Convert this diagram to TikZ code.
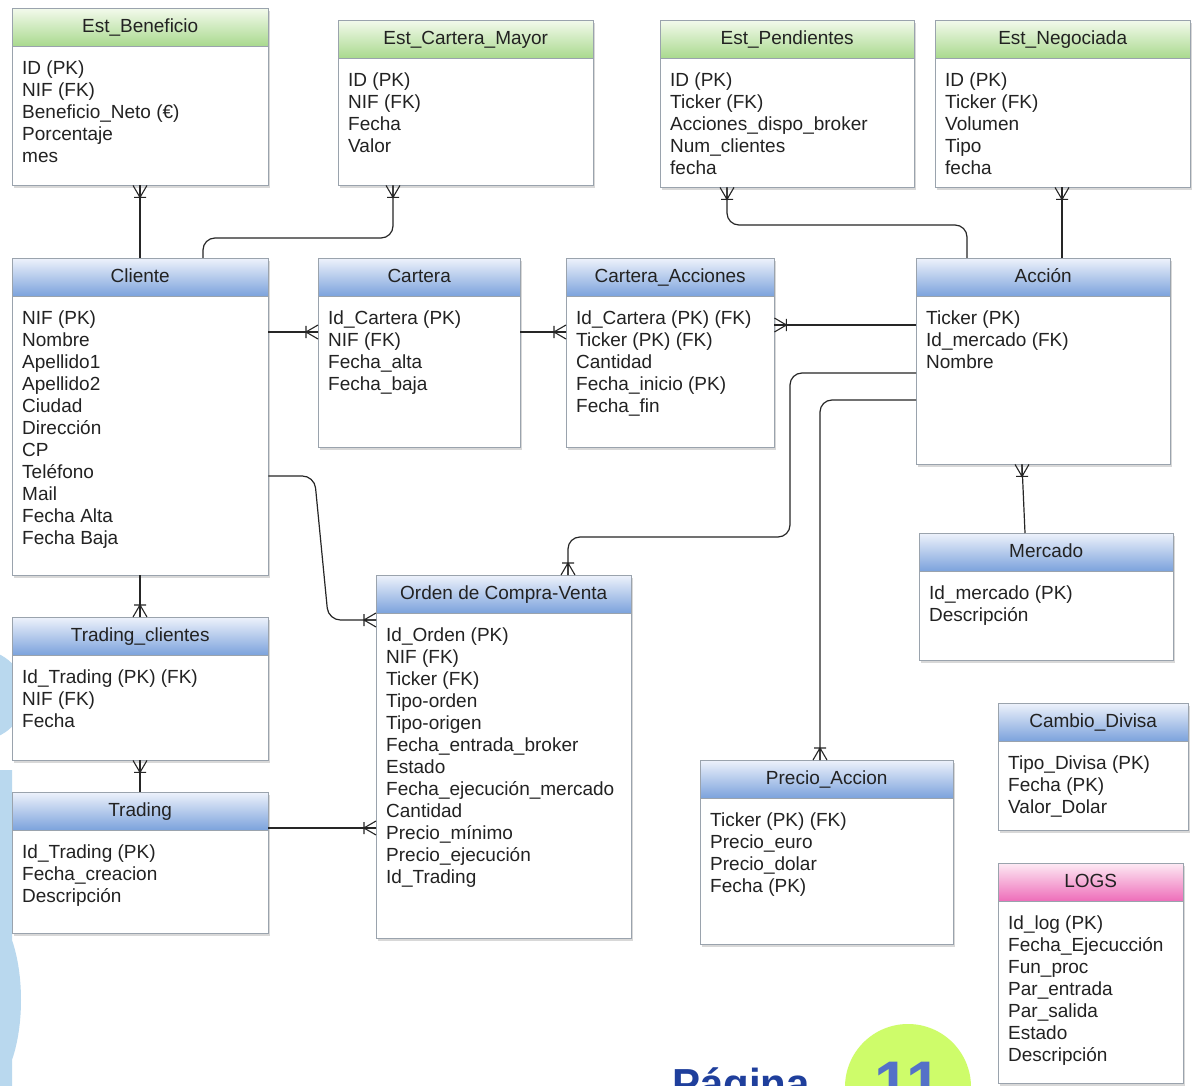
\documentclass[tikz,border=0pt]{standalone}
\usepackage{fontspec}
\setmainfont{Liberation Sans}
\usetikzlibrary{shadows}

\definecolor{azulA}{HTML}{EDF2FB}
\definecolor{azulB}{HTML}{7BA2DC}
\definecolor{verdeA}{HTML}{F3FAEC}
\definecolor{verdeB}{HTML}{A9D98E}
\definecolor{rosaA}{HTML}{FDEAF4}
\definecolor{rosaB}{HTML}{EE6DB9}
\definecolor{texto}{HTML}{222222}
\definecolor{borde}{HTML}{9AA3AD}
\definecolor{fondo}{HTML}{B9D8EE}
\definecolor{lima}{HTML}{CEFC6A}
\definecolor{azulPag}{HTML}{1F3F9C}
\definecolor{azulNum}{HTML}{5471C8}

\tikzset{
  tabla/.style={draw=borde,fill=white,inner sep=0,anchor=north west,
    drop shadow={shadow xshift=2pt,shadow yshift=-3pt,opacity=.3}},
  cabecera/.style={draw=borde,inner sep=0,anchor=north west,minimum height=38,
    text height=14,text depth=4,text=texto},
  azul/.style={top color=azulA,bottom color=azulB},
  verde/.style={top color=verdeA,bottom color=verdeB},
  rosa/.style={top color=rosaA,bottom color=rosaB},
  fila/.style={anchor=base west,inner sep=0,text=texto},
  rel/.style={line width=1.2pt,draw=black!85,rounded corners=12},
  patas/.pic={\draw[line width=1.1pt,black!85] (0,7) -- (-12,0) -- (0,-7) (-12,0) -- (0,0) (-12,-6) -- (-12,6);}
}

% nombre, x, y, ancho, alto, color, titulo, filas
\newcommand{\tabla}[8]{%
  \node[tabla,minimum width=#4,minimum height=#5] (#1) at (#2,-#3) {};
  \node[cabecera,#6,minimum width=#4] (#1-t) at (#1.north west) {#7};
  \foreach \r [count=\i] in {#8}
    \node[fila] (#1-\i) at ([xshift=10,yshift=-6-22*\i]#1-t.south west) {\r};
}

\begin{document}
\begin{tikzpicture}[x=1pt,y=1pt,font=\fontsize{19}{22}\selectfont]
	\path[use as bounding box,clip] (0,0) rectangle (1195,-1086);
	\fill[white] (0,0) rectangle (1195,-1086);
	% fondo de la pagina
	\fill[fondo] (-20,-695) circle (45);
	\fill[fondo] (0,-770) -- (12,-770) -- (12,-940) .. controls (24,-975) and (24,-1025) .. (12,-1060) -- (12,-1086) -- (0,-1086) -- cycle;

	\tabla{estben}{12}{8}{256}{177}{verde}{Est\_Beneficio}{ID (PK),NIF (FK),Beneficio\_Neto (€),Porcentaje,mes}
	\tabla{estcm}{338}{20}{255}{165}{verde}{Est\_Cartera\_Mayor}{ID (PK),NIF (FK),Fecha,Valor}
	\tabla{estpen}{660}{20}{254}{167}{verde}{Est\_Pendientes}{ID (PK),Ticker (FK),Acciones\_dispo\_broker,Num\_clientes,fecha}
	\tabla{estneg}{935}{20}{255}{167}{verde}{Est\_Negociada}{ID (PK),Ticker (FK),Volumen,Tipo,fecha}
	\tabla{cliente}{12}{258}{256}{317}{azul}{Cliente}{NIF (PK),Nombre,Apellido1,Apellido2,Ciudad,Dirección,CP,Teléfono,Mail,Fecha Alta,Fecha Baja}
	\tabla{cartera}{318}{258}{202}{189}{azul}{Cartera}{Id\_Cartera (PK),NIF (FK),Fecha\_alta,Fecha\_baja}
	\tabla{caracc}{566}{258}{208}{189}{azul}{Cartera\_Acciones}{Id\_Cartera (PK) (FK),Ticker (PK) (FK),Cantidad,Fecha\_inicio (PK),Fecha\_fin}
	\tabla{accion}{916}{258}{254}{206}{azul}{Acción}{Ticker (PK),Id\_mercado (FK),Nombre}
	\tabla{mercado}{919}{533}{254}{127}{azul}{Mercado}{Id\_mercado (PK),Descripción}
	\tabla{tradcli}{12}{617}{256}{143}{azul}{Trading\_clientes}{Id\_Trading (PK) (FK),NIF (FK),Fecha}
	\tabla{trading}{12}{792}{256}{141}{azul}{Trading}{Id\_Trading (PK),Fecha\_creacion,Descripción}
	\tabla{orden}{376}{575}{255}{363}{azul}{Orden de Compra-Venta}{Id\_Orden (PK),NIF (FK),Ticker (FK),Tipo-orden,Tipo-origen,Fecha\_entrada\_broker,Estado,Fecha\_ejecución\_mercado,Cantidad,Precio\_mínimo,Precio\_ejecución,Id\_Trading}
	\tabla{precio}{700}{760}{253}{184}{azul}{Precio\_Accion}{Ticker (PK) (FK),Precio\_euro,Precio\_dolar,Fecha (PK)}
	\tabla{cambio}{998}{703}{190}{127}{azul}{Cambio\_Divisa}{Tipo\_Divisa (PK),Fecha (PK),Valor\_Dolar}
	\tabla{logs}{998}{863}{185}{220}{rosa}{LOGS}{Id\_log (PK),Fecha\_Ejecucción,Fun\_proc,Par\_entrada,Par\_salida,Estado,Descripción}

	% relaciones
	\draw[rel] ([xshift=128]cliente.north west) -- ([xshift=128]estben.south west);
	\pic[rotate=90] at ([xshift=128]estben.south west) {patas};
	\draw[rel] ([xshift=191]cliente.north west) -- ++(0,20) -| ([xshift=55]estcm.south west);
	\pic[rotate=90] at ([xshift=55]estcm.south west) {patas};
	\draw[rel] ([yshift=-74]cliente.north east) -- ([yshift=-74]cartera.north west);
	\pic at ([yshift=-74]cartera.north west) {patas};
	\draw[rel] ([yshift=-74]cartera.north east) -- ([yshift=-74]caracc.north west);
	\pic at ([yshift=-74]caracc.north west) {patas};
	\draw[rel] ([yshift=-67]accion.north west) -- ([yshift=-67]caracc.north east);
	\pic[rotate=180] at ([yshift=-67]caracc.north east) {patas};
	\draw[rel] ([xshift=51]accion.north west) -- ++(0,33) -| ([xshift=67]estpen.south west);
	\pic[rotate=90] at ([xshift=67]estpen.south west) {patas};
	\draw[rel] ([xshift=146]accion.north west) -- ([xshift=127]estneg.south west);
	\pic[rotate=90] at ([xshift=127]estneg.south west) {patas};
	\draw[rel] ([xshift=106]mercado.north west) -- ([xshift=106]accion.south west);
	\pic[rotate=90] at ([xshift=106]accion.south west) {patas};
	\draw[rel] ([yshift=-115]accion.north west) -- ++(-126,0) -- ++(0,-164) -| ([xshift=192]orden.north west);
	\pic[rotate=-90] at ([xshift=192]orden.north west) {patas};
	\draw[rel] ([yshift=-142]accion.north west) -| ([xshift=120]precio.north west);
	\pic[rotate=-90] at ([xshift=120]precio.north west) {patas};
	\draw[rel] ([yshift=-218]cliente.north east) -- ++(46,0) -- ++(14,-144) -- ([yshift=-45]orden.north west);
	\pic at ([yshift=-45]orden.north west) {patas};
	\draw[rel] ([xshift=128]cliente.south west) -- ([xshift=128]tradcli.north west);
	\pic[rotate=-90] at ([xshift=128]tradcli.north west) {patas};
	\draw[rel] ([xshift=128]trading.north west) -- ([xshift=128]tradcli.south west);
	\pic[rotate=90] at ([xshift=128]tradcli.south west) {patas};
	\draw[rel] ([yshift=-36]trading.north east) -- ([yshift=-253]orden.north west);
	\pic at ([yshift=-253]orden.north west) {patas};

	% pie de pagina
	\node[font=\fontsize{42}{42}\selectfont\bfseries,text=azulPag,anchor=base west,inner sep=0] (pagina) at (672,-1098) {Página};
	\fill[lima] (908,-1087) circle (63);
	\node[font=\fontsize{63}{63}\selectfont\bfseries,text=azulNum,anchor=base,inner sep=0] (num) at (908,-1105) {11};
\end{tikzpicture}
\end{document}
